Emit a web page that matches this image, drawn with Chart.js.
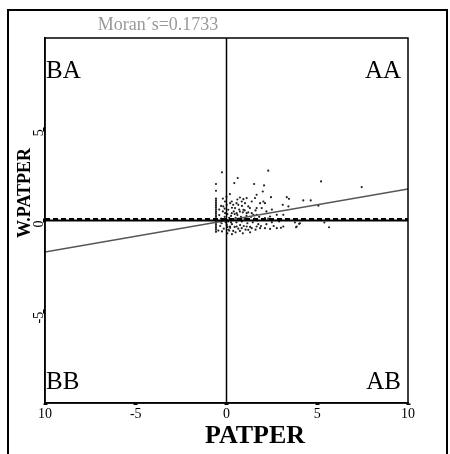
<!DOCTYPE html>
<html>
<head>
<meta charset="utf-8">
<script src="https://cdn.jsdelivr.net/npm/chart.js@4"></script>
<style>
html,body{margin:0;padding:0;background:#fff;}
#wrap{width:450px;height:454px;position:relative;}
</style>
</head>
<body>
<div id="wrap"><canvas id="c" width="450" height="454"></canvas></div>
<script>
// ---- data ----
const titleText = "Moran\u00B4s=0.1733";
const moranI = 0.1733;
const xTickValues = [-10, -5, 0, 5, 10];
const xTickLabels = ["10", "-5", "0", "5", "10"];
const yTickValues = [-5, 0, 5];
const yTickLabels = ["-5", "0", "5"];
const quadrantLabels = ["BA", "AA", "BB", "AB"];
const xTitle = "PATPER";
const yTitle = "W.PATPER";

// standardized PATPER (x) and its spatial lag W.PATPER (y)
const pointsX = [
  -0.58,-0.58,-0.58,-0.58,-0.58,-0.58,-0.58,-0.58,-0.58,-0.58,-0.58,-0.58,-0.58,-0.58,-0.58,-0.58,-0.58,-0.58,-0.58,-0.58,-0.58,
  -0.25,2.3,0.62,0.43,1.52,2.07,2.0,0.19,1.66,2.45,3.32,3.44,4.23,4.64,5.21,7.45,5.06,3.77,4.0,3.83,5.39,5.65,
  0.74,0.93,1.11,0.84,1.02,0.65,1.2,1.39,1.57,1.85,2.03,2.12,1.29,1.66,1.94,3.1,3.41,-0.08,0.01,0.29,0.37,0.47,
  -0.18,0.1,-0.08,0.29,0.56,0.74,0.93,1.11,1.39,1.48,1.66,2.12,2.4,2.77,3.13,
  -0.27,0.01,0.19,0.56,0.84,1.11,1.39,1.66,1.85,2.12,2.4,2.77,3.13,3.87,4.05,0.1,0.37,0.74,1.2,
  -0.4,-0.3,-0.35,-0.2,-0.15,-0.1,-0.05,0.05,0.1,0.15,0.2,0.25,0.3,0.35,0.4,0.45,0.5,0.55,0.6,0.65,0.7,0.75,0.8,0.85,0.9,0.95,1.0,1.05,1.1,1.15,
  1.25,1.3,1.35,1.45,1.55,1.6,1.7,1.75,1.8,1.9,2.0,2.2,2.3,2.5,2.6,2.9,3.0,-0.3,-0.2,0.0,0.2,0.3,0.55,0.6,0.85,
  -0.45,-0.25,0.05,0.3,0.5,0.9,1.3,-0.4,-0.1,0.15,0.45,0.7,1.0,1.2,1.6,2.2,2.5,-0.35,0.0,0.25,0.05
];
const pointsY = [
  2.0,1.63,1.2,1.1,1.0,0.9,0.8,0.7,0.6,0.5,0.4,0.3,0.2,0.1,0.0,-0.1,-0.2,-0.3,-0.4,-0.5,-0.62,
  2.64,2.73,2.33,2.05,2.0,1.92,1.59,1.45,1.41,1.28,1.28,1.19,1.1,1.1,2.14,1.83,0.81,-0.11,-0.18,-0.37,-0.11,-0.37,
  1.26,1.17,1.23,1.04,0.95,0.86,0.77,1.04,1.23,0.95,1.04,0.95,0.68,0.68,0.68,0.86,0.77,1.04,0.86,1.04,0.86,0.68,
  0.77,0.59,0.4,0.4,0.4,0.49,0.59,0.4,0.4,0.31,0.31,0.13,0.22,0.31,0.31,
  -0.15,-0.24,-0.33,-0.33,-0.42,-0.33,-0.42,-0.33,-0.42,-0.42,-0.46,-0.42,-0.33,-0.33,-0.15,-0.51,-0.57,-0.57,-0.51,
  0.3,0.1,-0.3,0.5,-0.45,0.2,-0.1,0.35,-0.05,0.15,-0.4,0.25,-0.2,0.05,0.5,-0.35,0.15,-0.1,0.3,-0.45,0.05,-0.25,0.2,-0.05,0.45,-0.3,0.1,-0.5,0.25,-0.15,
  0.05,-0.35,0.2,-0.1,0.1,-0.5,0.0,-0.2,0.2,-0.3,0.05,-0.2,0.1,-0.1,-0.3,-0.05,-0.4,0.8,1.2,1.3,0.95,0.7,0.95,1.15,0.8,
  -0.55,-0.6,-0.7,-0.75,-0.65,-0.7,-0.65,0.6,0.65,-0.55,0.35,0.6,0.55,0.45,0.55,0.5,0.6,-0.05,0.05,-0.1,-0.35
];
const axisMin = -10, axisMax = 10;
const meanLagY = 0.08;   // dashed reference line just above zero

// ---- build datasets ----
const scatterData = pointsX.map((x, i) => ({x: x, y: pointsY[i]}));
const serif = "'Liberation Serif','Times New Roman',serif";

const framePlugin = {
  id: 'framePlugin',
  beforeDraw(chart) {
    const ctx = chart.ctx;
    ctx.save();
    ctx.fillStyle = '#fff';
    ctx.fillRect(0, 0, chart.width, chart.height);
    ctx.strokeStyle = '#000';
    ctx.lineWidth = 2;
    ctx.strokeRect(8, 10, 439, 460);
    ctx.restore();
  },
  afterDraw(chart) {
    const ctx = chart.ctx;
    const a = chart.chartArea;
    ctx.save();
    ctx.strokeStyle = '#000';
    ctx.lineWidth = 1.5;
    ctx.strokeRect(a.left, a.top, a.right - a.left, a.bottom - a.top);
    // title
    ctx.fillStyle = '#999';
    ctx.font = '18px ' + serif;
    ctx.textAlign = 'center';
    ctx.textBaseline = 'middle';
    ctx.fillText(titleText, 158, 25);
    // quadrant labels
    ctx.fillStyle = '#000';
    ctx.font = '25px ' + serif;
    ctx.textBaseline = 'middle';
    ctx.textAlign = 'left';
    ctx.fillText(quadrantLabels[0], a.left + 1, 71);
    ctx.fillText(quadrantLabels[2], a.left + 1, 382);
    ctx.textAlign = 'right';
    ctx.fillText(quadrantLabels[1], a.right - 7, 71);
    ctx.fillText(quadrantLabels[3], a.right - 7, 382);
    // axis titles
    ctx.font = 'bold 26px ' + serif;
    ctx.textAlign = 'center';
    ctx.fillText(xTitle, 255, 436);
    ctx.save();
    ctx.translate(25, 193);
    ctx.rotate(-Math.PI / 2);
    ctx.font = 'bold 18px ' + serif;
    ctx.fillText(yTitle, 0, 0);
    ctx.restore();
    ctx.restore();
  }
};

new Chart(document.getElementById('c'), {
  type: 'scatter',
  data: {
    datasets: [
      {
        type: 'line', label: 'x0',
        data: [{x: 0, y: axisMin}, {x: 0, y: axisMax}],
        borderColor: '#000', borderWidth: 1.5, pointRadius: 0, showLine: true
      },
      {
        type: 'line', label: 'y0',
        data: [{x: axisMin, y: 0}, {x: axisMax, y: 0}],
        borderColor: '#000', borderWidth: 2, pointRadius: 0, showLine: true
      },
      {
        type: 'line', label: 'mean',
        data: [{x: axisMin, y: meanLagY}, {x: axisMax, y: meanLagY}],
        borderColor: '#000', borderWidth: 2, borderDash: [5, 3], pointRadius: 0, showLine: true
      },
      {
        type: 'line', label: 'fit',
        data: [{x: axisMin, y: axisMin * moranI}, {x: axisMax, y: axisMax * moranI}],
        borderColor: '#555', borderWidth: 1.5, pointRadius: 0, showLine: true
      },
      {
        label: 'points',
        data: scatterData,
        pointRadius: 1.1,
        pointBackgroundColor: '#222',
        pointBorderWidth: 0,
        borderColor: '#222'
      }
    ]
  },
  options: {
    responsive: false,
    animation: false,
    devicePixelRatio: 1,
    layout: {padding: {left: 0, right: 42, top: 38, bottom: 0}},
    plugins: {legend: {display: false}, tooltip: {enabled: false}, title: {display: false}},
    scales: {
      x: {
        type: 'linear', min: axisMin, max: axisMax,
        afterBuildTicks(s) { s.ticks = xTickValues.map(v => ({value: v})); },
        afterFit(s) { s.height = 51; },
        ticks: {
          color: '#000', font: {family: serif, size: 14}, padding: 1,
          maxRotation: 0, minRotation: 0,
          callback(v) { const i = xTickValues.indexOf(v); return i >= 0 ? xTickLabels[i] : ''; }
        },
        grid: {display: true, drawOnChartArea: false, drawTicks: true, tickLength: 2, tickWidth: 4, tickColor: '#000'},
        border: {display: true, color: '#000', width: 1.5}
      },
      y: {
        type: 'linear', min: axisMin, max: axisMax,
        afterBuildTicks(s) { s.ticks = yTickValues.map(v => ({value: v})); },
        afterFit(s) { s.width = 45; },
        ticks: {
          color: '#000', font: {family: serif, size: 14}, padding: 4,
          minRotation: 90, maxRotation: 90,
          callback(v) { const i = yTickValues.indexOf(v); return i >= 0 ? yTickLabels[i] : ''; }
        },
        grid: {display: true, drawOnChartArea: false, drawTicks: true, tickLength: 2, tickWidth: 4, tickColor: '#000'},
        border: {display: true, color: '#000', width: 1.5}
      }
    }
  },
  plugins: [framePlugin]
});
</script>
</body>
</html>
